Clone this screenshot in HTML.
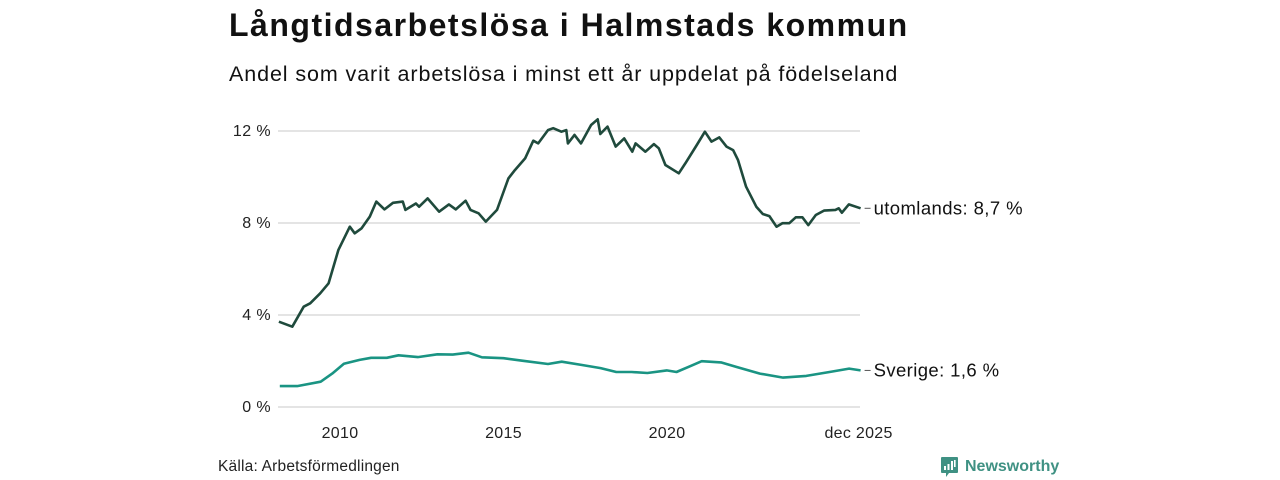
<!DOCTYPE html>
<html><head><meta charset="utf-8"><style>
body{margin:0;width:1280px;height:480px;background:#fff;font-family:"Liberation Sans","DejaVu Sans",sans-serif;overflow:hidden;position:relative}
.t{position:absolute;white-space:nowrap;color:#111}
</style></head><body>
<div class="t" style="left:229px;top:7px;font-size:32px;font-weight:bold;letter-spacing:1.5px">Långtidsarbetslösa i Halmstads kommun</div>
<div class="t" style="left:229px;top:62px;font-size:21.5px;letter-spacing:0.9px">Andel som varit arbetslösa i minst ett år uppdelat på födelseland</div>
<svg id="chart" width="1280" height="480" style="position:absolute;left:0;top:0"></svg>
<div class="t" style="left:218px;top:458px;font-size:15.5px;color:#222;letter-spacing:0.2px">Källa: Arbetsförmedlingen</div>
<div style="position:absolute;left:940px;top:456px;display:flex;align-items:center">
<svg width="19" height="22"><path d="M2 1h15a1 1 0 0 1 1 1v14a1 1 0 0 1-1 1H9l-3 4v-4H2a1 1 0 0 1-1-1V2a1 1 0 0 1 1-1z" fill="#3f9183"/><rect x="4" y="10" width="2" height="4" fill="#fff"/><rect x="7.5" y="8" width="2" height="6" fill="#fff"/><rect x="11" y="5" width="2" height="9" fill="#fff"/><rect x="14" y="4" width="1.6" height="7" fill="#fff"/></svg>
<span style="margin-left:6px;font-size:16px;font-weight:bold;color:#3f9183">Newsworthy</span></div>
<script>
const yTicks=[0,4,8,12];
const yTickLabels=["0 %","4 %","8 %","12 %"];
const xTicks=[2010,2015,2020,2025.92];
const xTickLabels=["2010","2015","2020","dec 2025"];
const utlT=[2008.13,2008.54,2008.89,2009.09,2009.39,2009.65,2009.95,2010.30,2010.45,2010.66,2010.91,2011.11,2011.36,2011.62,2011.92,2012.0,2012.32,2012.42,2012.68,2013.03,2013.33,2013.54,2013.84,2013.99,2014.24,2014.46,2014.80,2015.15,2015.35,2015.66,2015.91,2016.06,2016.36,2016.52,2016.77,2016.92,2016.97,2017.17,2017.37,2017.68,2017.88,2017.96,2018.18,2018.43,2018.69,2018.94,2019.04,2019.34,2019.60,2019.75,2019.95,2020.36,2020.56,2020.91,2021.16,2021.36,2021.60,2021.82,2022.02,2022.17,2022.42,2022.73,2022.93,2023.13,2023.35,2023.53,2023.74,2023.94,2024.14,2024.32,2024.55,2024.80,2025.15,2025.25,2025.35,2025.56,2025.92];
const utlV=[3.71,3.49,4.36,4.51,4.94,5.38,6.83,7.84,7.55,7.77,8.28,8.93,8.59,8.88,8.93,8.57,8.85,8.71,9.07,8.49,8.81,8.59,8.97,8.57,8.42,8.06,8.57,9.94,10.30,10.81,11.58,11.46,12.04,12.12,11.97,12.04,11.46,11.83,11.46,12.26,12.51,11.87,12.19,11.32,11.68,11.10,11.46,11.10,11.43,11.25,10.52,10.16,10.59,11.39,11.97,11.54,11.72,11.32,11.17,10.74,9.58,8.71,8.39,8.30,7.84,7.99,7.99,8.25,8.25,7.91,8.35,8.54,8.57,8.64,8.45,8.81,8.64];
const sveT=[2008.16,2008.69,2009.41,2009.76,2010.12,2010.6,2010.95,2011.43,2011.79,2012.38,2012.98,2013.45,2013.93,2014.34,2015.0,2015.6,2016.36,2016.78,2017.38,2017.97,2018.45,2018.92,2019.40,2019.99,2020.29,2020.70,2021.06,2021.65,2022.13,2022.84,2023.55,2024.26,2024.97,2025.57,2025.92];
const sveV=[0.91,0.91,1.10,1.45,1.88,2.05,2.14,2.14,2.25,2.17,2.29,2.28,2.36,2.16,2.12,2.01,1.87,1.97,1.83,1.69,1.52,1.52,1.48,1.59,1.52,1.77,1.99,1.94,1.74,1.45,1.28,1.35,1.52,1.67,1.59];
const svg=document.getElementById('chart');const NS='http://www.w3.org/2000/svg';
const X=t=>340+(t-2010)*32.7;const Y=v=>407-v*23;
function mk(tag,attrs){const e=document.createElementNS(NS,tag);for(const k in attrs)e.setAttribute(k,attrs[k]);svg.appendChild(e);return e;}
yTicks.forEach((v,i)=>{
 const g=mk('line',{x1:278,x2:860,y1:Y(v),y2:Y(v),stroke:'#dcdcdc','stroke-width':1.5});
 
 
 const t=mk('text',{x:271,y:Y(v)+5,'text-anchor':'end','font-size':16,fill:'#222','letter-spacing':0.4});t.textContent=yTickLabels[i];
 
 
});
xTicks.forEach((v,i)=>{
 const t=mk('text',{x:X(v)+(i==3?-2:0),y:438,'text-anchor':'middle','font-size':16,fill:'#222','letter-spacing':0.3});t.textContent=xTickLabels[i];
 
 
});
function series(T,V,col,name,label){
 const d=T.map((t,i)=>(i?'L':'M')+X(t).toFixed(1)+','+Y(V[i]).toFixed(1)).join('');
 const p=mk('path',{d:d,fill:'none',stroke:col,'stroke-width':2.6,'stroke-linejoin':'round'});
 
 
 const ly=Y(V[V.length-1]);
 const l=mk('line',{x1:X(T[T.length-1])+4,x2:X(T[T.length-1])+10,y1:ly,y2:ly,stroke:'#555','stroke-width':1});
 
 
 const t=mk('text',{x:X(T[T.length-1])+13,y:ly+6,'font-size':18.5,fill:'#111','letter-spacing':0.4});t.textContent=label;
 
 
}
series(sveT,sveV,'#1a9483','sverige','Sverige: 1,6 %');
series(utlT,utlV,'#1f4a3c','utomlands','utomlands: 8,7 %');
</script>
</body></html>
